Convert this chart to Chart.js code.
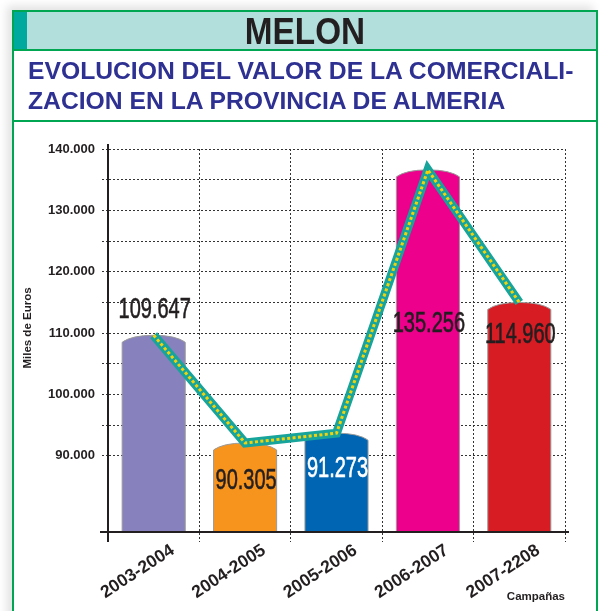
<!DOCTYPE html>
<html>
<head>
<meta charset="utf-8">
<script src="https://cdn.jsdelivr.net/npm/chart.js@4"></script>
<style>
html, body { margin: 0; padding: 0; background: #fff; }
#pagina { position: relative; width: 600px; height: 611px; overflow: hidden; font-family: "Liberation Sans", Arial, sans-serif; }
#grafico { position: absolute; left: 0; top: 0; z-index: 0; }
#marco { position: absolute; left: 12px; top: 10px; width: 582px; height: 700px; border: 2px solid #00a651;
  box-shadow: -5px -4px 9px rgba(0,0,0,0.12); z-index: 1; pointer-events: none; }
#banda { position: absolute; left: 0; top: 0; width: 582px; height: 37px; background: #b2dfdb; border-bottom: 2px solid #00a651; }
#tira { position: absolute; left: 0; top: 0; width: 13px; height: 37px; background: #00a99d; }
#melon { position: absolute; left: 0; top: 0; width: 582px; text-align: center; font: bold 37px/40px "Liberation Sans", Arial, sans-serif;
  color: #231f20; transform: scaleX(0.9); }
#titulo { position: absolute; left: 14px; top: 44px; font: bold 24.7px/30px "Liberation Sans", Arial, sans-serif; color: #2e3192; white-space: nowrap; }
#raya { position: absolute; left: 0; top: 108px; width: 582px; height: 0; border-top: 2px solid #00a651; }
#ejeY { position: absolute; left: 27px; top: 328px; transform: translate(-50%, -50%) rotate(-90deg); white-space: nowrap;
  font: bold 11.5px "Liberation Sans", Arial, sans-serif; color: #231f20; z-index: 2; }
</style>
</head>
<body>
<div id="pagina">
  <canvas id="grafico" width="600" height="611"></canvas>
  <div id="marco">
    <div id="banda"><div id="tira"></div><div id="melon">MELON</div></div>
    <div id="titulo">EVOLUCION DEL VALOR DE LA COMERCIALI-<br>ZACION EN LA PROVINCIA DE ALMERIA</div>
    <div id="raya"></div>
  </div>
  <div id="ejeY">Miles de Euros</div>
</div>
<script>
// datos
var campanas = ["2003-2004", "2004-2005", "2005-2006", "2006-2007", "2007-2208"];
var valores = [109647, 90305, 91273, 135256, 114960];        // cifras rotuladas
var alturas = [109650, 92100, 93700, 136600, 115000];        // altura dibujada (barras y linea)
var marcasY = [90000, 95000, 100000, 105000, 110000, 115000, 120000, 125000, 130000, 135000, 140000];

var coloresBarras = ["#8781bd", "#f7941d", "#0066b3", "#ec008c", "#d71c24"];
var colorRotulo = ["#231f20", "#231f20", "#ffffff", "#231f20", "#231f20"];
var despRotulo = [-27, 36, 34, 152, 31];

function fmt(v) {
  return String(v).replace(/\B(?=(\d{3})+(?!\d))/g, ".");
}

// barras con la parte de arriba redondeada
var barrasForma = {
  id: "barrasForma",
  beforeDatasetsDraw: function(chart) {
    var ctx = chart.ctx;
    var suelo = chart.chartArea.bottom;
    var meta = chart.getDatasetMeta(2);
    meta.data.forEach(function(bar, i) {
      var p = bar.getProps(["x", "y", "base", "width"], true);
      var base = Math.min(p.base, suelo);
      var l = p.x - p.width / 2, r = p.x + p.width / 2, hombro = p.y + 7;
      ctx.save();
      ctx.beginPath();
      ctx.moveTo(l, base);
      ctx.lineTo(l, hombro);
      ctx.quadraticCurveTo(l + p.width * 0.15, p.y, p.x, p.y);
      ctx.quadraticCurveTo(r - p.width * 0.15, p.y, r, hombro);
      ctx.lineTo(r, base);
      ctx.fillStyle = coloresBarras[i];
      ctx.fill();
      ctx.strokeStyle = "#9a9a9a";
      ctx.lineWidth = 1;
      ctx.stroke();
      ctx.restore();
    });
  }
};

var rotulos = {
  id: "rotulos",
  afterDatasetsDraw: function(chart) {
    var ctx = chart.ctx;
    var meta = chart.getDatasetMeta(2);
    meta.data.forEach(function(bar, i) {
      ctx.save();
      ctx.translate(bar.x + 1, bar.y + despRotulo[i] + 10);
      ctx.scale(0.69, 1);
      ctx.font = '29px "Liberation Sans", Arial, sans-serif';
      ctx.textAlign = "center";
      ctx.textBaseline = "alphabetic";
      ctx.fillStyle = colorRotulo[i];
      ctx.strokeStyle = colorRotulo[i];
      ctx.lineWidth = 0.6;
      ctx.fillText(fmt(valores[i]), 0, 0);
      ctx.strokeText(fmt(valores[i]), 0, 0);
      ctx.restore();
    });
  }
};

// prolongacion de los ejes
var ejes = {
  id: "ejes",
  afterDraw: function(chart) {
    var ctx = chart.ctx, a = chart.chartArea;
    ctx.save();
    ctx.strokeStyle = "#231f20";
    ctx.lineWidth = 2;
    ctx.beginPath();
    ctx.moveTo(a.left, a.top - 5);
    ctx.lineTo(a.left, a.bottom + 10);
    ctx.moveTo(a.left - 8, a.bottom);
    ctx.lineTo(a.right + 4, a.bottom);
    ctx.stroke();
    ctx.restore();
  }
};

var fuente = '"Liberation Sans", Arial, sans-serif';

new Chart("grafico", {
  type: "bar",
  data: {
    labels: campanas,
    datasets: [{
      type: "line",
      data: alturas,
      borderColor: "#f3d20c",
      borderWidth: 3,
      borderDash: [3, 2.4],
      borderJoinStyle: "miter",
      pointRadius: 0,
      tension: 0,
      order: 1
    }, {
      type: "line",
      data: alturas,
      borderColor: "#17a49b",
      borderWidth: 9,
      borderJoinStyle: "miter",
      pointRadius: 0,
      tension: 0,
      order: 2
    }, {
      data: alturas,
      backgroundColor: "rgba(0,0,0,0)",
      borderWidth: 0,
      barPercentage: 0.69,
      categoryPercentage: 1,
      order: 3
    }]
  },
  options: {
    responsive: false,
    animation: false,
    events: [],
    layout: { padding: { top: 149, right: 35, bottom: 0, left: 0 } },
    plugins: { legend: { display: false }, tooltip: { enabled: false } },
    scales: {
      x: {
        offset: true,
        grid: { offset: true, color: "#333", lineWidth: 1, tickLength: 10, tickColor: "#333", tickBorderDash: [2, 2] },
        border: { color: "#231f20", width: 2, dash: [2, 2] },
        ticks: {
          autoSkip: false, minRotation: 33, maxRotation: 33, labelOffset: 19, padding: -2,
          color: "#231f20", font: { family: fuente, size: 17.5, weight: "bold" }
        },
        title: {
          display: true, text: "Campañas", align: "end", color: "#231f20",
          font: { family: fuente, size: 11.5, weight: "bold" }, padding: { top: 0, bottom: 7 }
        },
        afterFit: function(s) { s.height = 79; }
      },
      y: {
        min: 77600,
        max: 140000,
        afterBuildTicks: function(s) { s.ticks = marcasY.map(function(v) { return { value: v }; }); },
        grid: { color: "#333", lineWidth: 1, tickLength: 6, tickColor: "#333", tickBorderDash: [2, 2] },
        border: { color: "#231f20", width: 2, dash: [2, 2] },
        ticks: {
          padding: 7, color: "#231f20", font: { family: fuente, size: 13, weight: "bold" },
          callback: function(v) { return v % 10000 === 0 ? fmt(v) : ""; }
        },
        afterFit: function(s) { s.width = 108; }
      }
    }
  },
  plugins: [barrasForma, rotulos, ejes]
});
</script>
</body>
</html>
